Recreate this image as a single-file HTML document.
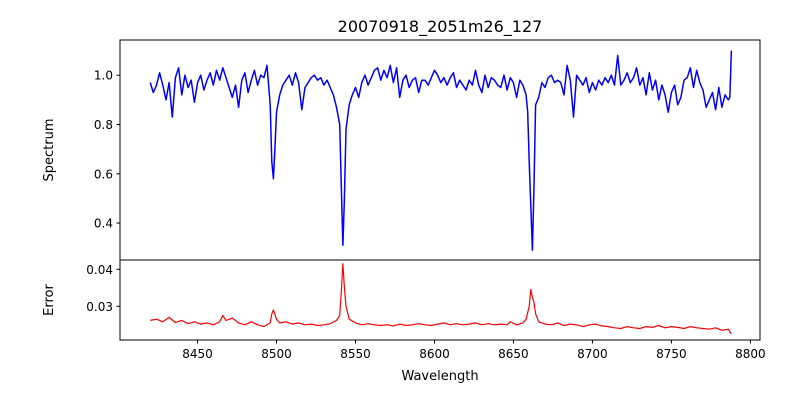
<!DOCTYPE html>
<html><head><meta charset="utf-8"><style>
body{margin:0;background:#fff}
svg text{font-family:"DejaVu Sans","Liberation Sans",sans-serif;fill:#000}
</style></head><body>
<svg width="800" height="400" viewBox="0 0 800 400" xmlns="http://www.w3.org/2000/svg">
<text x="440" y="32" font-size="16" text-anchor="middle">20070918_2051m26_127</text>
<g id="topPanel"></g>
<g id="botPanel"></g>
<rect x="120" y="40" width="640" height="220" fill="none" stroke="#000" stroke-width="1"/>
<rect x="120" y="260" width="640" height="80" fill="none" stroke="#000" stroke-width="1"/>
<text x="440" y="380" font-size="13" text-anchor="middle">Wavelength</text>
<text transform="translate(53,150) rotate(-90)" font-size="13" text-anchor="middle">Spectrum</text>
<text transform="translate(53,300) rotate(-90)" font-size="13" text-anchor="middle">Error</text>
</svg>
<script>
const specWave=[8420,8422,8424,8426,8428,8430,8432,8434,8436,8438,8440,8442,8444,8446,8448,8450,8452,8454,8456,8458,8460,8462,8464,8466,8468,8470,8472,8474,8476,8478,8480,8482,8484,8486,8488,8490,8492,8494,8496,8497,8498,8499,8500,8502,8504,8506,8508,8510,8512,8514,8516,8518,8520,8522,8524,8526,8528,8530,8532,8534,8536,8538,8540,8541,8542,8543,8544,8546,8548,8550,8552,8554,8556,8558,8560,8562,8564,8566,8568,8570,8572,8574,8576,8578,8580,8582,8584,8586,8588,8590,8592,8594,8596,8598,8600,8602,8604,8606,8608,8610,8612,8614,8616,8618,8620,8622,8624,8626,8628,8630,8632,8634,8636,8638,8640,8642,8644,8646,8648,8650,8652,8654,8656,8658,8659,8660,8662,8663,8664,8666,8668,8670,8672,8674,8676,8678,8680,8682,8684,8686,8688,8690,8692,8694,8696,8698,8700,8702,8704,8706,8708,8710,8712,8714,8716,8718,8720,8722,8724,8726,8728,8730,8732,8734,8736,8738,8740,8742,8744,8746,8748,8750,8752,8754,8756,8758,8760,8762,8764,8766,8768,8770,8772,8774,8776,8778,8780,8782,8784,8786,8787,8788];
const specFlux=[0.97,0.93,0.96,1.01,0.96,0.90,0.97,0.83,0.99,1.03,0.92,1.00,0.95,0.98,0.89,0.97,1.00,0.94,0.98,1.01,0.96,1.02,0.98,1.03,0.99,0.95,0.91,0.96,0.87,0.98,1.01,0.93,0.98,1.02,0.96,1.00,0.99,1.04,0.88,0.65,0.58,0.70,0.85,0.92,0.96,0.98,1.00,0.96,1.01,0.97,0.86,0.95,0.97,0.99,1.00,0.98,0.99,0.96,0.98,0.95,0.92,0.87,0.80,0.55,0.31,0.50,0.78,0.88,0.92,0.95,0.91,0.97,1.00,0.96,0.99,1.02,1.03,0.98,1.02,0.99,1.04,0.97,1.03,0.91,0.98,1.00,0.95,0.98,0.99,0.93,0.98,0.98,0.96,0.99,1.02,1.00,0.97,0.99,0.96,0.99,1.01,0.95,0.98,0.96,0.94,0.98,0.96,1.02,0.96,0.93,1.00,0.95,0.99,0.98,0.96,0.95,1.00,0.94,0.99,0.97,0.91,0.98,0.96,0.92,0.85,0.65,0.29,0.55,0.88,0.91,0.97,0.95,0.99,1.00,0.97,0.98,0.97,0.92,1.04,0.98,0.83,1.00,0.98,0.96,0.99,0.93,0.97,0.94,0.98,0.96,0.99,0.97,1.00,0.96,1.08,0.96,0.98,1.01,0.97,0.99,1.03,0.96,0.99,0.92,1.01,0.94,0.98,0.90,0.96,0.92,0.85,0.93,0.96,0.88,0.91,0.98,0.99,1.03,0.95,1.02,0.97,0.94,0.87,0.90,0.93,0.86,0.95,0.87,0.92,0.90,0.91,1.10];
const errWave=[8420,8424,8428,8432,8436,8440,8444,8448,8452,8456,8460,8464,8466,8468,8472,8476,8480,8484,8488,8492,8496,8497,8498,8500,8502,8506,8510,8514,8518,8522,8526,8530,8534,8538,8540,8541,8542,8543,8544,8546,8550,8554,8558,8562,8566,8570,8574,8578,8582,8586,8590,8594,8598,8602,8606,8610,8614,8618,8622,8626,8630,8634,8638,8642,8646,8648,8652,8656,8658,8660,8661,8662,8663,8664,8666,8670,8674,8678,8682,8686,8690,8694,8698,8702,8706,8710,8714,8718,8722,8726,8730,8734,8738,8742,8746,8750,8754,8758,8762,8766,8770,8774,8778,8782,8786,8788];
const errVal=[0.0262,0.0265,0.0258,0.0270,0.0256,0.0262,0.0253,0.0258,0.0252,0.0255,0.0250,0.0258,0.0275,0.0262,0.0268,0.0255,0.0250,0.0258,0.0250,0.0245,0.0255,0.0280,0.0290,0.0265,0.0255,0.0258,0.0252,0.0255,0.0250,0.0252,0.0248,0.0250,0.0253,0.0262,0.0275,0.0340,0.0415,0.0350,0.0300,0.0265,0.0255,0.0250,0.0253,0.0250,0.0248,0.0250,0.0247,0.0252,0.0248,0.0250,0.0253,0.0250,0.0248,0.0252,0.0255,0.0250,0.0253,0.0250,0.0252,0.0255,0.0250,0.0253,0.0250,0.0252,0.0250,0.0258,0.0250,0.0255,0.0265,0.0300,0.0345,0.0325,0.0310,0.0280,0.0258,0.0252,0.0250,0.0255,0.0248,0.0252,0.0250,0.0245,0.0250,0.0252,0.0247,0.0245,0.0242,0.0240,0.0245,0.0242,0.0240,0.0245,0.0243,0.0248,0.0242,0.0245,0.0243,0.0240,0.0245,0.0242,0.0240,0.0238,0.0242,0.0235,0.0238,0.0225];
const xTicks=[8450,8500,8550,8600,8650,8700,8750,8800];
const specTicks=[0.4,0.6,0.8,1.0];
const errTicks=[0.03,0.04];

const NS="http://www.w3.org/2000/svg";
const X=w=>120+(w-8400.9)*(640/405.2);
const YS=v=>40+(1.143-v)/(1.143-0.250)*220;
const YE=v=>260+(0.04251-v)/(0.04251-0.02089)*80;
function mk(tag,attrs,parent){const e=document.createElementNS(NS,tag);for(const k in attrs)e.setAttribute(k,attrs[k]);parent.appendChild(e);return e;}
const topG=document.getElementById('topPanel'),botG=document.getElementById('botPanel');
let d='';specWave.forEach((w,i)=>{d+=(i?'L':'M')+X(w).toFixed(1)+','+YS(specFlux[i]).toFixed(1);});
const p1=mk('path',{d:d,fill:'none',stroke:'#0000ff','stroke-width':1.5,'stroke-linejoin':'round'},topG);


d='';errWave.forEach((w,i)=>{d+=(i?'L':'M')+X(w).toFixed(1)+','+YE(errVal[i]).toFixed(1);});
const p2=mk('path',{d:d,fill:'none',stroke:'#ff0000','stroke-width':1.2,'stroke-linejoin':'round'},botG);


xTicks.forEach(t=>{const x=X(t);
 const l=mk('line',{x1:x,x2:x,y1:340,y2:343.5,stroke:'#000'},botG);
 
 
 const tx=mk('text',{x:x,y:358,'font-size':12,'text-anchor':'middle'},botG);tx.textContent=t;
 
 });
specTicks.forEach(t=>{const y=YS(t);
 const l=mk('line',{x1:116.5,x2:120,y1:y,y2:y,stroke:'#000'},topG);
 
 
 const tx=mk('text',{x:113,y:y+4.5,'font-size':12,'text-anchor':'end'},topG);tx.textContent=t.toFixed(1);
 
 });
errTicks.forEach(t=>{const y=YE(t);
 const l=mk('line',{x1:116.5,x2:120,y1:y,y2:y,stroke:'#000'},botG);
 
 
 const tx=mk('text',{x:113,y:y+4.5,'font-size':12,'text-anchor':'end'},botG);tx.textContent=t.toFixed(2);
 
 });
</script>
</body></html>
